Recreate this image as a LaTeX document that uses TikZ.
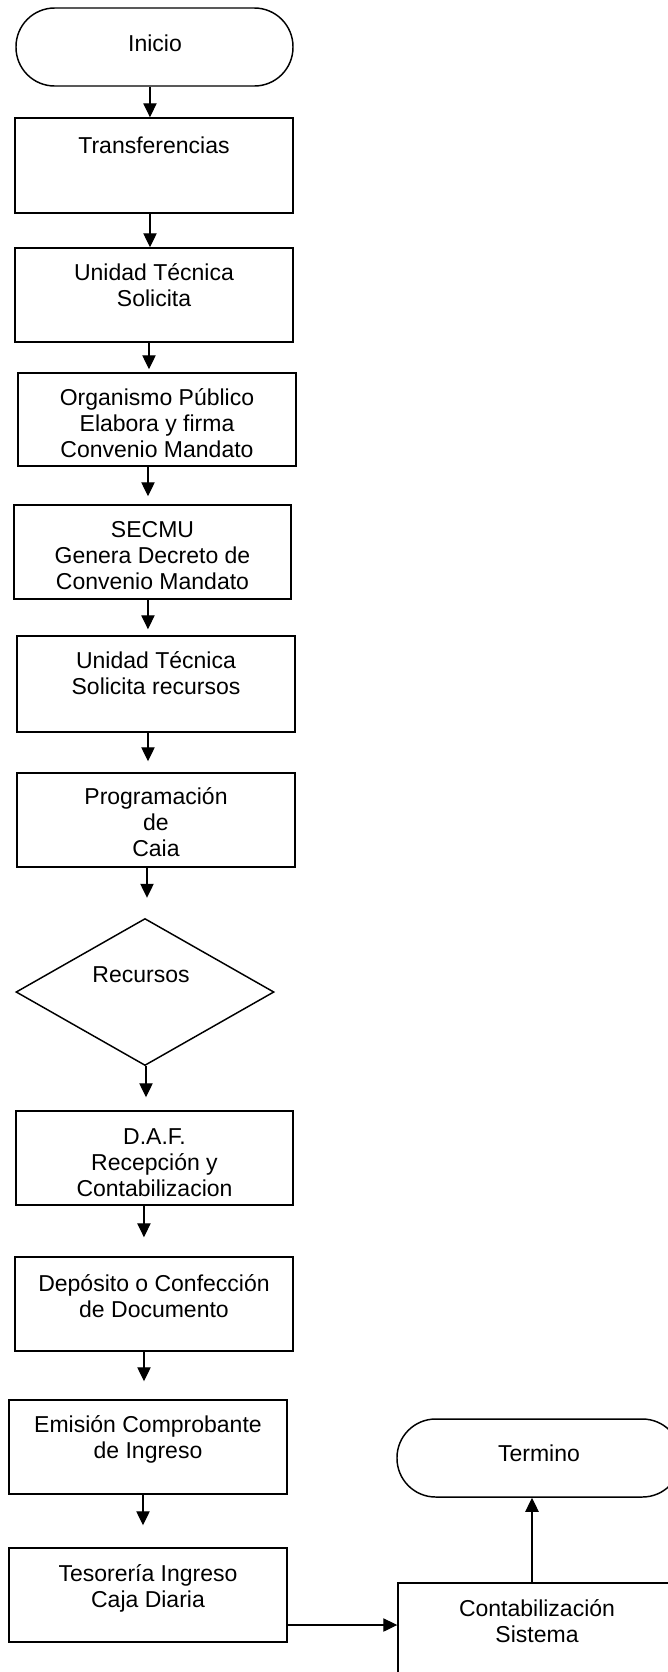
\documentclass[tikz,border=0pt]{standalone}
\usepackage{fontspec}
\setmainfont{Liberation Sans}
\usetikzlibrary{shapes.geometric,arrows.meta,calc}
\newcommand{\lnst}{\rule[-0.14em]{0pt}{1em}}
\lineskiplimit=-100pt
\begin{document}
\begin{tikzpicture}[x=0.75pt,y=-0.75pt,
  shp/.style={draw,line width=1.1pt,inner sep=0pt},
  boxx/.style={shp,rectangle,minimum width=208.5pt},
  term/.style={shp,rectangle,rounded corners=29pt,minimum height=58.5pt},
  dia/.style={shp,diamond,aspect=1.755,minimum width=193.5pt,minimum height=110.25pt},
  txt/.style={align=center,inner sep=0pt,font=\fontsize{17.25pt}{19.5pt}\selectfont},
  arr/.style={line width=0.9pt,-{Triangle[length=10.5pt,width=10pt]}}]
\useasboundingbox (0,0) rectangle (668,1672);
\clip (0,0) rectangle (668,1672);

\node[term, minimum width=207.75pt] (n1) at (154.5,47) {};
\node[txt] (t1) at (155,43) {\lnst Inicio};
\node[boxx, minimum height=71.25pt] (n2) at (154,165.5) {};
\node[txt] (t2) at (154,145) {\lnst Transferencias};
\node[boxx, minimum height=70.5pt] (n3) at (154,295) {};
\node[txt] (t3) at (154,285) {\lnst Unidad Técnica\\\lnst Solicita};
\node[boxx, minimum height=69.75pt] (n4) at (157,419.5) {};
\node[txt] (t4) at (157,423) {\lnst Organismo Público\\\lnst Elabora y firma\\\lnst Convenio Mandato};
\node[boxx, minimum width=207.75pt, minimum height=70.5pt] (n5) at (152.5,552) {};
\node[txt] (t5) at (152.5,555) {\lnst SECMU\\\lnst Genera Decreto de\\\lnst Convenio Mandato};
\node[boxx, minimum height=72pt] (n6) at (156,684) {};
\node[txt] (t6) at (156,673.5) {\lnst Unidad Técnica\\\lnst Solicita recursos};
\node[boxx, minimum height=70.5pt] (n7) at (156,820) {};
\node[txt] (t7) at (156,822.5) {\lnst Programación\\\lnst de\\\lnst Caia};
\node[dia] (n8) at (145,992) {};
\node[txt] (t8) at (141,974) {\lnst Recursos};
\node[boxx, minimum width=207.75pt, minimum height=70.5pt] (n9) at (154.5,1158) {};
\node[txt] (t9) at (154.5,1162.5) {\lnst D.A.F.\\\lnst Recepción y\\\lnst Contabilizacion};
\node[boxx, minimum height=70.5pt] (n10) at (154,1304) {};
\node[txt] (t10) at (154,1296) {\lnst Depósito o Confección\\\lnst de Documento};
\node[boxx, minimum height=70.5pt] (n11) at (148,1447) {};
\node[txt] (t11) at (148,1437.5) {\lnst Emisión Comprobante\\\lnst de Ingreso};
\node[boxx, minimum height=70.5pt] (n12) at (148,1595) {};
\node[txt] (t12) at (148,1586.5) {\lnst Tesorería Ingreso\\\lnst Caja Diaria};
\node[term, minimum width=213pt] (n13) at (539,1458) {};
\node[txt] (t13) at (539,1453) {\lnst Termino};
\node[boxx, minimum height=70.5pt] (n14) at (537,1630) {};
\node[txt] (t14) at (537,1621.5) {\lnst Contabilización\\\lnst Sistema};

\draw[arr] ([xshift=-3.4pt]n1.south) -- ([xshift=-3.4pt]n1.south |- n2.north);
\draw[arr] ([xshift=-3pt]n2.south) -- ([xshift=-3pt]n2.south |- n3.north);
\draw[arr, shorten >=2.25pt] ([xshift=-3.75pt]n3.south) -- ([xshift=-3.75pt]n3.south |- n4.north);
\draw[arr, shorten >=6pt] ([xshift=-6.75pt]n4.south) -- ([xshift=-6.75pt]n4.south |- n5.north);
\draw[arr, shorten >=4.5pt] ([xshift=-3.4pt]n5.south) -- ([xshift=-3.4pt]n5.south |- n6.north);
\draw[arr, shorten >=8.25pt] ([xshift=-6pt]n6.south) -- ([xshift=-6pt]n6.south |- n7.north);
\draw[arr, shorten >=15pt] ([xshift=-6.75pt]n7.south) -- ([xshift=-6.75pt]n7.south |- n8.north);
\draw[arr, shorten >=9.75pt] ([xshift=0.75pt]n8.south) -- ([xshift=0.75pt]n8.south |- n9.north);
\draw[arr, shorten >=14.25pt] ([xshift=-7.9pt]n9.south) -- ([xshift=-7.9pt]n9.south |- n10.north);
\draw[arr, shorten >=13.5pt] ([xshift=-7.5pt]n10.south) -- ([xshift=-7.5pt]n10.south |- n11.north);
\draw[arr, shorten >=16.5pt] ([xshift=-3.75pt]n11.south) -- ([xshift=-3.75pt]n11.south |- n12.north);
\draw[arr] ([yshift=-22.5pt]n12.east) -- ([yshift=-22.5pt]n12.east -| n14.west);
\draw[arr] ([xshift=-3.75pt]n14.north) -- ([xshift=-3.75pt]n14.north |- n13.south);
\end{tikzpicture}
\end{document}
